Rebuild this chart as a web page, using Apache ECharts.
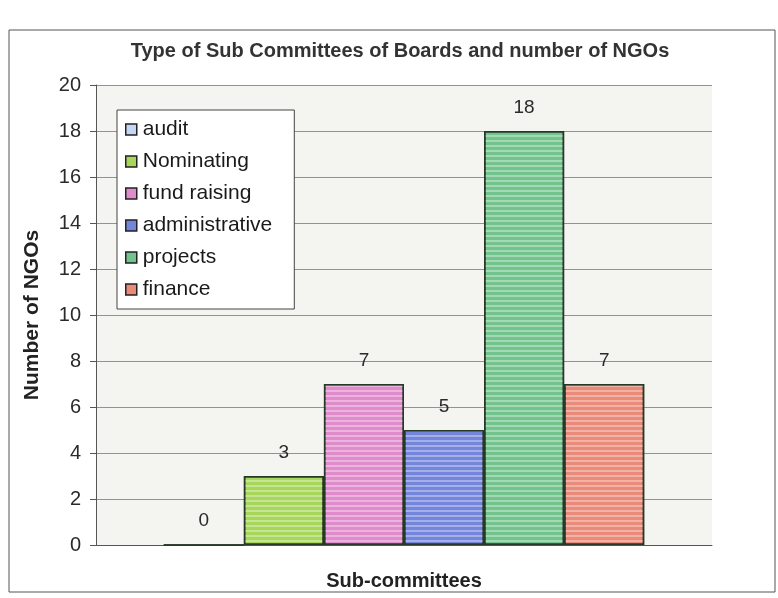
<!DOCTYPE html>
<html><head><meta charset="utf-8">
<script src="https://cdn.jsdelivr.net/npm/echarts@6/dist/echarts.min.js"></script>
<style>html,body{margin:0;padding:0;background:#fff}#c{width:778px;height:598px}</style>
</head><body><div id="c"></div>
<script>
var categories = ['Sub-committees'];
var seriesNames = ['audit', 'Nominating', 'fund raising', 'administrative', 'projects', 'finance'];
var seriesValues = [0, 3, 7, 5, 18, 7];
var yTicks = [0, 2, 4, 6, 8, 10, 12, 14, 16, 18, 20];
var colors = ['#c4d8f4', '#a6d65a', '#e08ccc', '#7486dc', '#72c48c', '#ea8a78'];

var chart = echarts.init(document.getElementById('c'));
var font = 'Liberation Sans, Arial, sans-serif';
var series = seriesNames.map(function (n, i) {
  return {
    name: n, type: 'bar', data: [seriesValues[i]],
    barGap: '0%', barCategoryGap: '22%',
    itemStyle: {
      color: colors[i], borderColor: '#263826', borderWidth: 1.5,
      decal: { symbol: 'rect', color: 'rgba(255,255,255,0.35)', dashArrayX: [[1, 0]], dashArrayY: [2, 3], rotation: 0, symbolSize: 1 }
    },
    label: { show: true, position: 'top', distance: 14, fontSize: 19, fontFamily: font, color: '#2a2a2a' }
  };
});
chart.setOption({
  animation: false,
  textStyle: { fontFamily: font },
  title: {
    text: 'Type of Sub Committees of Boards and number of NGOs',
    left: 395, top: 36, textAlign: 'center',
    textStyle: { fontSize: 20, fontWeight: 'bold', color: '#333', fontFamily: font }
  },
  legend: {
    orient: 'vertical', left: 117, top: 110,
    data: seriesNames,
    backgroundColor: '#fff', borderColor: '#444', borderWidth: 1,
    padding: [9, 22, 9, 8], itemGap: 11,
    icon: 'rect', itemWidth: 11, itemHeight: 11,
    itemStyle: { borderColor: '#222', borderWidth: 1.5, decal: 'none' },
    textStyle: { fontSize: 21, color: '#1a1a1a', fontFamily: font, padding: [0, 0, 0, 1] }
  },
  grid: { left: 96, right: 66, top: 85, bottom: 53, backgroundColor: '#f4f4f1', show: true, borderWidth: 0 },
  xAxis: {
    type: 'category', data: categories,
    axisLine: { lineStyle: { color: '#555' } },
    axisTick: { show: false }, axisLabel: { show: false },
    name: 'Sub-committees', nameLocation: 'middle', nameGap: 26,
    nameTextStyle: { fontSize: 20, fontWeight: 'bold', color: '#222', fontFamily: font }
  },
  yAxis: {
    type: 'value', min: 0, max: 20, interval: 2,
    axisLine: { show: true, lineStyle: { color: '#555' } },
    axisTick: { show: true, length: 6, lineStyle: { color: '#555' } },
    axisLabel: { fontSize: 20, color: '#2a2a2a', margin: 15, fontFamily: font,
      formatter: function (v) { return yTicks.indexOf(v) >= 0 ? String(v) : ''; } },
    splitLine: { lineStyle: { color: '#929292', width: 1 } },
    name: 'Number of NGOs', nameLocation: 'middle', nameGap: 53,
    nameTextStyle: { fontSize: 21, fontWeight: 'bold', color: '#222', fontFamily: font }
  },
  graphic: [{
    type: 'rect', shape: { x: 9, y: 30, width: 766, height: 562 },
    style: { fill: 'none', stroke: '#555', lineWidth: 1 }, silent: true, z: -1
  }],
  series: series
});
</script></body></html>
